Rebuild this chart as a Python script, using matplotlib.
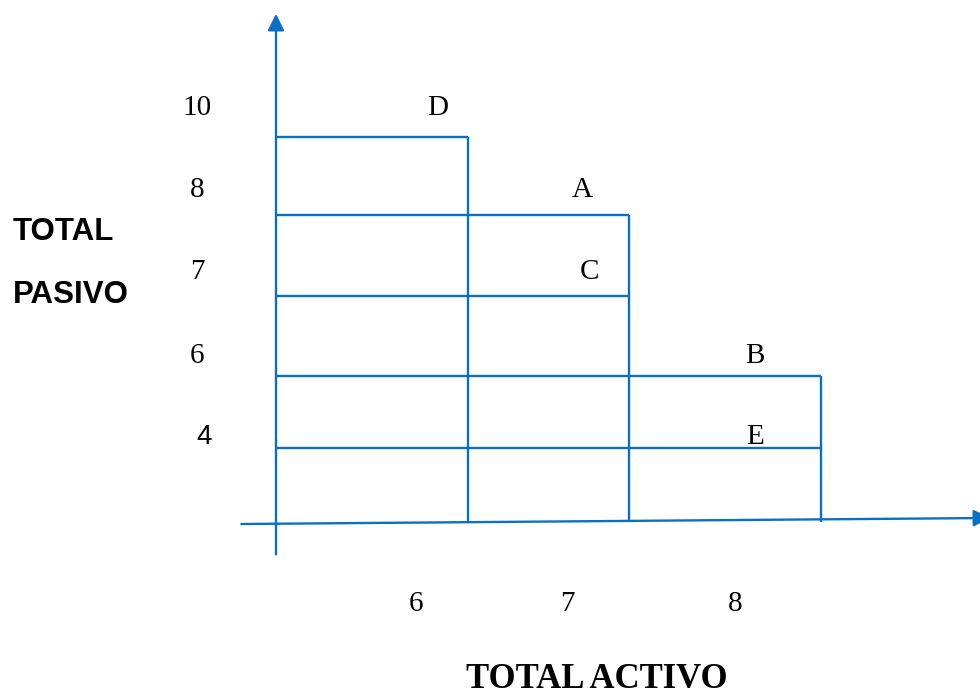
import matplotlib
matplotlib.use("Agg")
import matplotlib.pyplot as plt
import numpy as np

# puntos del diagrama: letra, total activo, total pasivo
labels = ['D', 'A', 'C', 'B', 'E']
activo = [6, 7, 7, 8, 8]
pasivo = [10, 8, 7, 6, 4]
x_levels = [6, 7, 8]
y_levels = [4, 6, 7, 8, 10]

# escala dibujada a mano (ancho de columnas / alto de filas), solo layout
col_width = [1.0, 0.84, 1.0]
row_height = [0.96, 0.94, 1.04, 1.05, 1.01]
lab_dx = [-30, -47, -40, -66, -66]      # pixels
row_dy = {10: 29, 8: 25, 7: 24, 6: 20, 4: 11}
xlab_dx = [-52, -62, -86]

BLUE = '#0B70C1'
SERIF = 'Liberation Serif'

x_pos = dict(zip(x_levels, np.cumsum(col_width)))
y_pos = dict(zip(y_levels, np.cumsum(row_height)))

fig = plt.figure(figsize=(9.8, 6.96), dpi=100)
ax = fig.add_axes([0, 0, 1, 1])
ax.set_xlim(-276 / 192., 704 / 192.)
ax.set_ylim(-174 / 77., 522 / 77.)
ax.axis('off')

## lineas horizontales de cada punto
ax.hlines([y_pos[p] for p in pasivo], 0, [x_pos[a] for a in activo],
          color=BLUE, lw=1.7)
## verticales hasta el punto mas alto de cada activo
for a in x_levels:
    top = max(y_pos[p] for p, aa in zip(pasivo, activo) if aa == a)
    ax.vlines(x_pos[a], 0, top, color=BLUE, lw=1.7)

## ejes con flecha
ax.annotate('', xy=(3.72, 0.052), xytext=(-0.18, -0.026),
            annotation_clip=False,
            arrowprops=dict(arrowstyle='-|>', color=BLUE, lw=1.7,
                            mutation_scale=25, shrinkA=0, shrinkB=0))
ax.annotate('', xy=(0, 6.6), xytext=(0, -0.42),
            annotation_clip=False,
            arrowprops=dict(arrowstyle='-|>', color=BLUE, lw=1.7,
                            mutation_scale=25, shrinkA=0, shrinkB=0))

## letras
for lab, a, p, dx in zip(labels, activo, pasivo, lab_dx):
    ax.annotate(lab, (x_pos[a], y_pos[p]), xytext=(dx, row_dy[p]),
                textcoords='offset pixels', ha='center', va='center',
                fontsize=21, family=SERIF)

## valores del eje y
for p in y_levels:
    fam = 'Liberation Sans' if p == 4 else SERIF
    xx = 7 if p == 4 else 0
    ax.annotate(str(p), (0, y_pos[p]), xytext=(-79 + xx, row_dy[p]),
                textcoords='offset pixels', ha='center', va='center',
                fontsize=20 if p == 4 else 21, family=fam)

## valores del eje x
for a, dx in zip(x_levels, xlab_dx):
    ax.annotate(str(a), (x_pos[a], 0), xytext=(dx, -82),
                textcoords='offset pixels', ha='center', va='center',
                fontsize=21, family=SERIF)

fig.text(13 / 980., 1 - 232 / 696., 'TOTAL', ha='left', va='center',
         fontsize=22.5, fontweight='bold', family='Liberation Sans')
fig.text(13 / 980., 1 - 295 / 696., 'PASIVO', ha='left', va='center',
         fontsize=22.5, fontweight='bold', family='Liberation Sans')
fig.text(597 / 980., 1 - 679 / 696., 'TOTAL ACTIVO', ha='center', va='center',
         fontsize=25, fontweight='bold', family=SERIF)

fig.savefig('out.png', dpi=100)
